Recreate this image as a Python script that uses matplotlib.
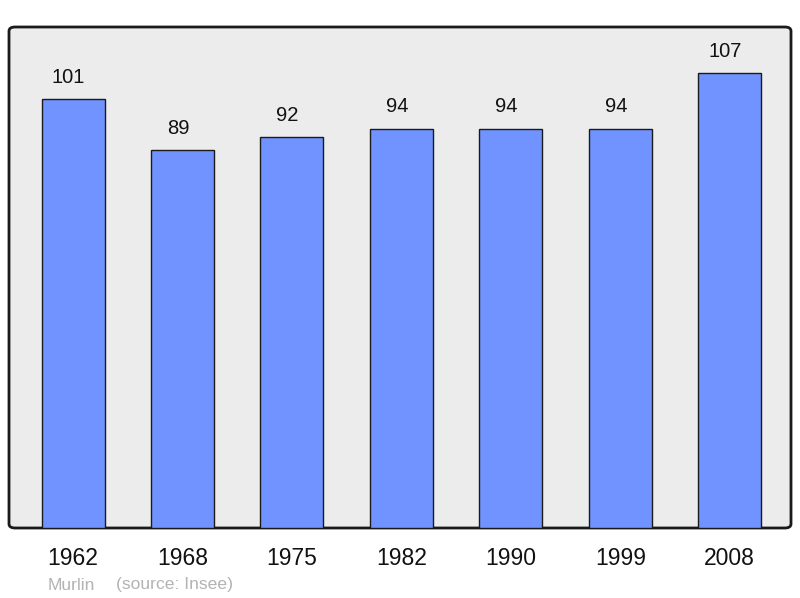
import numpy as np
from matplotlib import pyplot as plt
from matplotlib.patches import FancyBboxPatch

# Données
years = ['1962', '1968', '1975', '1982', '1990', '1999', '2008']
population = [101, 89, 92, 94, 94, 94, 107]

plt.rcParams['font.family'] = ['Liberation Sans', 'DejaVu Sans']

fig = plt.figure(figsize=(8, 5.98), dpi=100)
ax = fig.add_axes([9 / 800, 1 - 528 / 598, 782 / 800, 501 / 598])
ax.set_facecolor('none')

# cadre arrondi
frame = FancyBboxPatch((0, 0), 1, 1, boxstyle='round,pad=0,rounding_size=0.008',
                       transform=ax.transAxes, facecolor='#ececec',
                       edgecolor='#1a1a1a', linewidth=2, clip_on=False, zorder=0)
ax.add_patch(frame)

x = np.arange(len(years))
bars = ax.bar(x, population, width=0.576, color='#7093ff',
              edgecolor='#1a1a1a', linewidth=1.0, zorder=2)

for xi, val in zip(x, population):
    ax.text(xi - 0.04, val + 3.8, f"{val}", ha='center', va='baseline', fontsize=14.5,
            color='#111111', zorder=3)

ax.set_xlim(-0.585, 6.56)
ax.set_ylim(0, 117.9)
ax.set_yticks([])
ax.set_xticks(x)
ax.set_xticklabels(years, fontsize=16.5, color='#111111')
ax.tick_params(axis='x', length=0, pad=14)

for side in ax.spines.values():
    side.set_visible(False)

fig.text(48 / 800, 1 - 585 / 598, 'Murlin', fontsize=12.6, color='#b3b3b3',
         ha='left', va='center')
fig.text(116 / 800, 1 - 585 / 598, '(source: Insee)', fontsize=12.6,
         color='#b3b3b3', ha='left', va='center')

fig.savefig('out.png', dpi=100)
